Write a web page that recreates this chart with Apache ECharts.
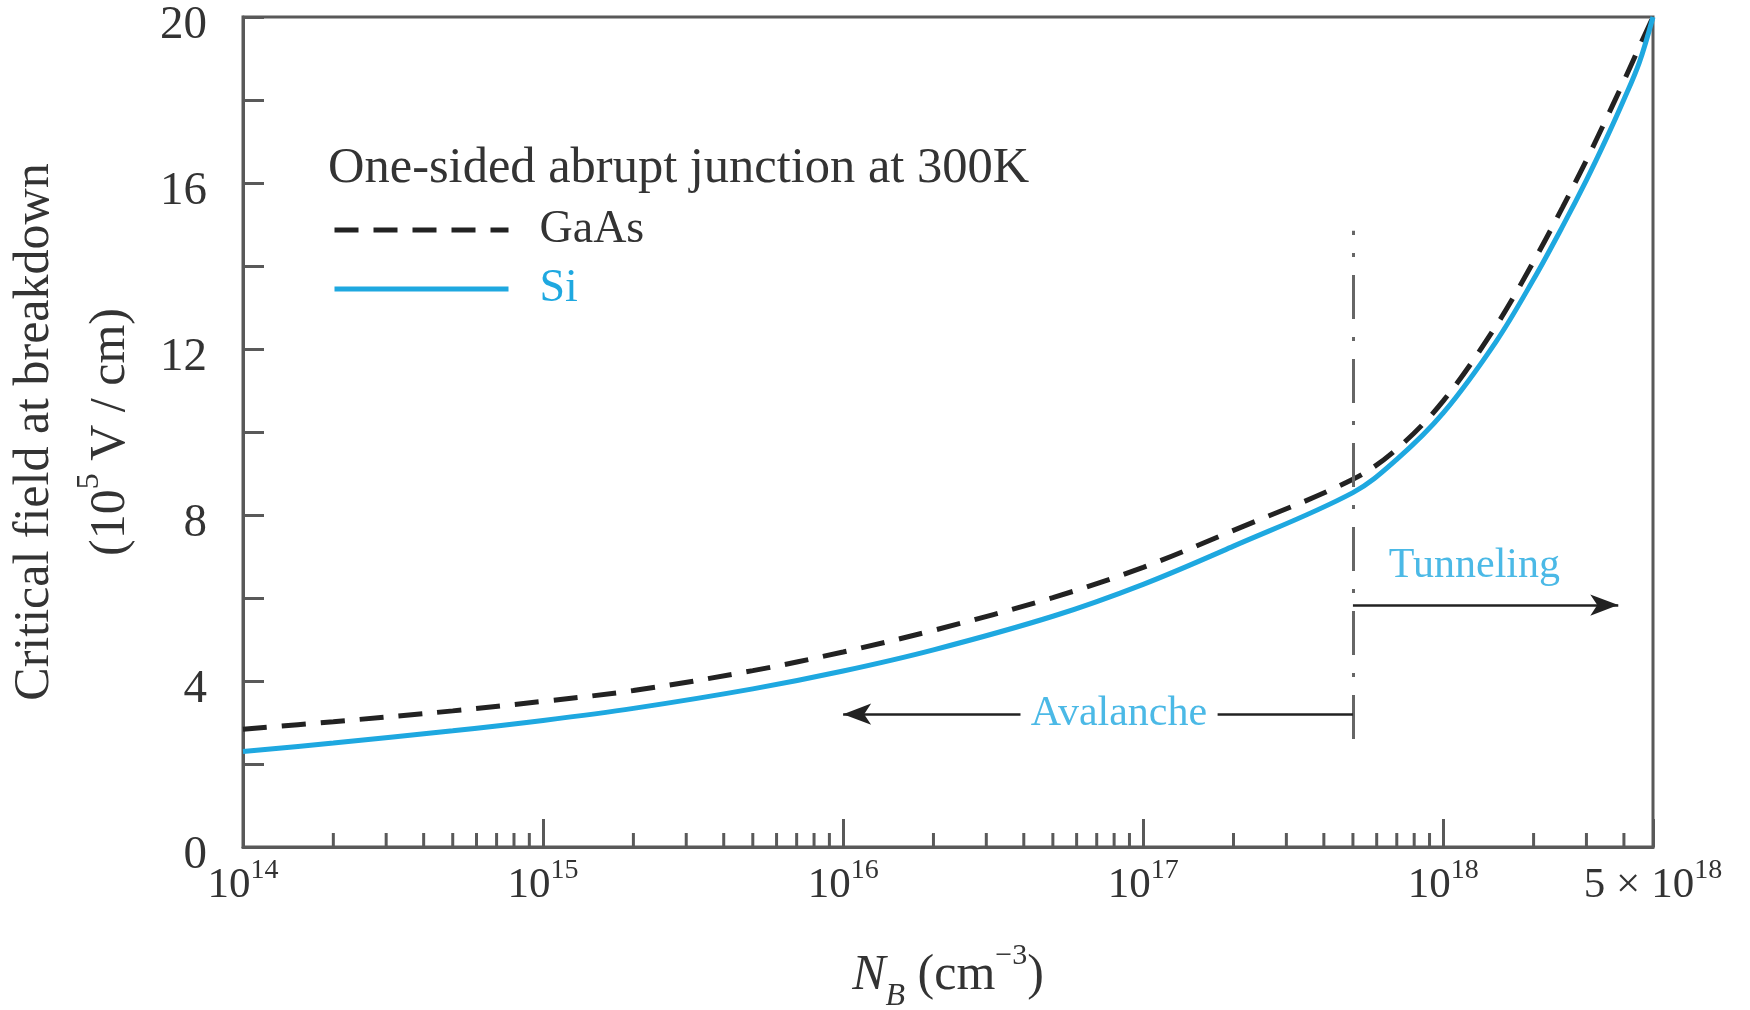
<!DOCTYPE html>
<html>
<head>
<meta charset="utf-8">
<script src="https://cdn.jsdelivr.net/npm/echarts@6/dist/echarts.min.js"></script>
<style>
html,body{margin:0;padding:0;background:#fff;}
#chart{width:1750px;height:1010px;}
</style>
</head>
<body>
<div id="chart"></div>
<script>
// ---- data ----
const nbValues = [1e14, 2e14, 5e14, 1e15, 2e15, 5e15, 1e16, 2e16, 5e16, 1e17, 2e17, 5e17, 7e17, 1e18, 1.5e18, 2e18, 2.5e18, 3e18, 3.5e18, 4e18, 4.5e18, 5e18];
const siField   = [2.30, 2.505, 2.80, 3.05, 3.34, 3.81, 4.24, 4.75, 5.56, 6.33, 7.25, 8.54, 9.34, 10.46, 12.18, 13.68, 14.96, 16.07, 17.08, 18.01, 18.90, 20.0];
const gaasField = [2.84, 3.02, 3.28, 3.51, 3.77, 4.25, 4.70, 5.22, 6.01, 6.74, 7.63, 8.86, 9.59, 10.75, 12.56, 14.11, 15.42, 16.55, 17.56, 18.46, 19.28, 20.0];
const xMin = 1e14, xMax = 5e18;
const yMin = 0, yMax = 20;
const yTickStep = 2, yLabelStep = 4;
const xMinorMultipliers = [2, 3, 4, 5, 6, 7, 8, 9];
const boundaryNB = 5e17;             // avalanche / tunneling boundary
const boundaryRange = [2.6, 14.85];  // vertical extent of dash-dot line
const avalancheY = 3.2, avalancheArrowEnd = 1e16, avalancheGap = [3.9e16, 1.77e17], avalancheLabelX = 8.3e16;
const tunnelingY = 5.83, tunnelingArrowEnd = 3.83e18, tunnelingLabel = [1.27e18, 6.77];
const legendTitle = 'One-sided abrupt junction at 300K';

// ---- style ----
const BLUE = '#1ea8e0';
const AX = '#595959';
const TXT = '#333333';
const SERIF = '"Liberation Serif", "Times New Roman", serif';

const minorTicks = [];
for (let e = 14; e <= 18; e++) {
  xMinorMultipliers.forEach(m => { const v = m * Math.pow(10, e); if (v > xMin && v < xMax) minorTicks.push([v, 0]); });
}

function xLabel(v) {
  const e = Math.floor(Math.log10(v) + 1e-9);
  const m = Math.round(v / Math.pow(10, e) * 100) / 100;
  if (Math.abs(m - 1) < 1e-6) return '{b|10}{s|' + e + '}';
  return '{b|' + m + ' × 10}{s|' + e + '}';
}

const chart = echarts.init(document.getElementById('chart'), null, {renderer: 'canvas'});
const option = {
  backgroundColor: '#fff',
  animation: false,
  title: {
    text: legendTitle,
    left: 323, top: 138,
    textStyle: {fontFamily: SERIF, fontSize: 50.5, fontWeight: 'normal', color: TXT}
  },
  legend: {
    orient: 'vertical', left: 327, top: 201,
    itemWidth: 174, itemHeight: 20, itemGap: 11,
    selectedMode: false,
    itemStyle: {opacity: 0},
    lineStyle: {width: 5},
    data: [
      {name: 'GaAs', textStyle: {color: TXT}},
      {name: 'Si', textStyle: {color: BLUE}}
    ],
    textStyle: {fontFamily: SERIF, fontSize: 46, lineHeight: 48, padding: [0, 0, 0, 26]}
  },
  grid: {left: 243, right: 97, top: 17, bottom: 163, show: true, borderColor: AX, borderWidth: 3,
         containLabel: false, outerBoundsMode: 'none'},
  xAxis: {
    type: 'log', logBase: 10, min: xMin, max: xMax,
    name: '{i|N}{sub|B}{n| (cm}{s|−3}{n|)}',
    nameLocation: 'middle', nameGap: 102,
    nameTextStyle: {
      fontFamily: SERIF, color: TXT,
      rich: {
        i: {fontFamily: SERIF, fontStyle: 'italic', fontSize: 50, color: TXT, lineHeight: 54},
        n: {fontFamily: SERIF, fontSize: 50, color: TXT, lineHeight: 54},
        sub: {fontFamily: SERIF, fontStyle: 'italic', fontSize: 32, color: TXT, verticalAlign: 'bottom', lineHeight: 54, padding: [0, 0, -10, 0]},
        s: {fontFamily: SERIF, fontSize: 30, color: TXT, verticalAlign: 'top', lineHeight: 54, padding: [-8, 0, 0, 0]}
      }
    },
    axisLine: {show: true, lineStyle: {color: AX, width: 3}},
    axisTick: {show: true, inside: true, length: 28, lineStyle: {color: AX, width: 3}},
    splitLine: {show: false},
    minorTick: {show: false},
    axisLabel: {
      margin: 16,
      formatter: xLabel,
      rich: {
        b: {fontFamily: SERIF, fontSize: 43, color: TXT, lineHeight: 46},
        s: {fontFamily: SERIF, fontSize: 28, color: TXT, verticalAlign: 'top', lineHeight: 46, padding: [-6, 0, 0, 0]}
      }
    }
  },
  yAxis: {
    type: 'value', min: yMin, max: yMax, interval: yTickStep,
    name: '{a|Critical field at breakdown}\n{a|(10}{s|5}{a| V / cm)}',
    nameLocation: 'middle', nameRotate: 90, nameGap: 93,
    nameTextStyle: {
      fontFamily: SERIF, color: TXT, lineHeight: 76,
      rich: {
        a: {fontFamily: SERIF, fontSize: 50, color: TXT, lineHeight: 76},
        s: {fontFamily: SERIF, fontSize: 32, color: TXT, verticalAlign: 'top', lineHeight: 62}
      }
    },
    axisLine: {show: true, lineStyle: {color: AX, width: 3}},
    axisTick: {show: true, inside: true, length: 21, lineStyle: {color: AX, width: 3}},
    splitLine: {show: false},
    axisLabel: {
      margin: 36, fontFamily: SERIF, fontSize: 47, color: TXT,
      verticalAlign: 'top', lineHeight: 18,
      formatter: v => (v % yLabelStep === 0 ? String(v) : '')
    }
  },
  series: [
    {
      name: 'GaAs', type: 'line', symbol: 'none', smooth: 0.35, z: 3,
      data: nbValues.map((x, i) => [x, gaasField[i]]),
      lineStyle: {color: '#222', width: 5, type: [24, 15]},
      itemStyle: {color: '#222'}
    },
    {
      name: 'Si', type: 'line', symbol: 'none', smooth: 0.35, z: 4,
      data: nbValues.map((x, i) => [x, siField[i]]),
      lineStyle: {color: BLUE, width: 5},
      itemStyle: {color: BLUE},
      markLine: {
        silent: true, animation: false, symbol: ['none', 'none'],
        label: {show: false},
        data: [
          [{coord: [boundaryNB, boundaryRange[0]], lineStyle: {color: '#666', width: 3, type: [44, 18, 4, 18]}},
           {coord: [boundaryNB, boundaryRange[1]]}],
          [{coord: [boundaryNB, avalancheY], lineStyle: {color: '#222', width: 2.5, type: 'solid'}},
           {coord: [avalancheGap[1], avalancheY]}],
          [{coord: [avalancheGap[0], avalancheY], lineStyle: {color: '#222', width: 2.5, type: 'solid'}, symbol: 'none'},
           {coord: [avalancheArrowEnd, avalancheY], symbol: 'arrow', symbolSize: [16, 28], itemStyle: {color: '#222'}}],
          [{coord: [boundaryNB, tunnelingY], lineStyle: {color: '#222', width: 2.5, type: 'solid'}, symbol: 'none'},
           {coord: [tunnelingArrowEnd, tunnelingY], symbol: 'arrow', symbolSize: [16, 28], itemStyle: {color: '#222'}}]
        ]
      }
    },
    {
      name: 'labels', type: 'scatter', symbolSize: 0, silent: true, z: 5,
      data: [
        {value: [avalancheLabelX, avalancheY], label: {formatter: 'Avalanche'}},
        {value: tunnelingLabel, label: {formatter: 'Tunneling'}}
      ],
      label: {show: true, position: 'inside', fontFamily: SERIF, fontSize: 42, color: BLUE}
    },
    {
      name: 'minorTicks', type: 'custom', silent: true, z: 6, clip: false,
      data: minorTicks,
      renderItem: function (params, api) {
        const p = api.coord([api.value(0), api.value(1)]);
        return {type: 'line', shape: {x1: p[0], y1: p[1], x2: p[0], y2: p[1] - 14}, style: {stroke: AX, lineWidth: 3}};
      }
    }
  ]
};
chart.setOption(option);
</script>
</body>
</html>
